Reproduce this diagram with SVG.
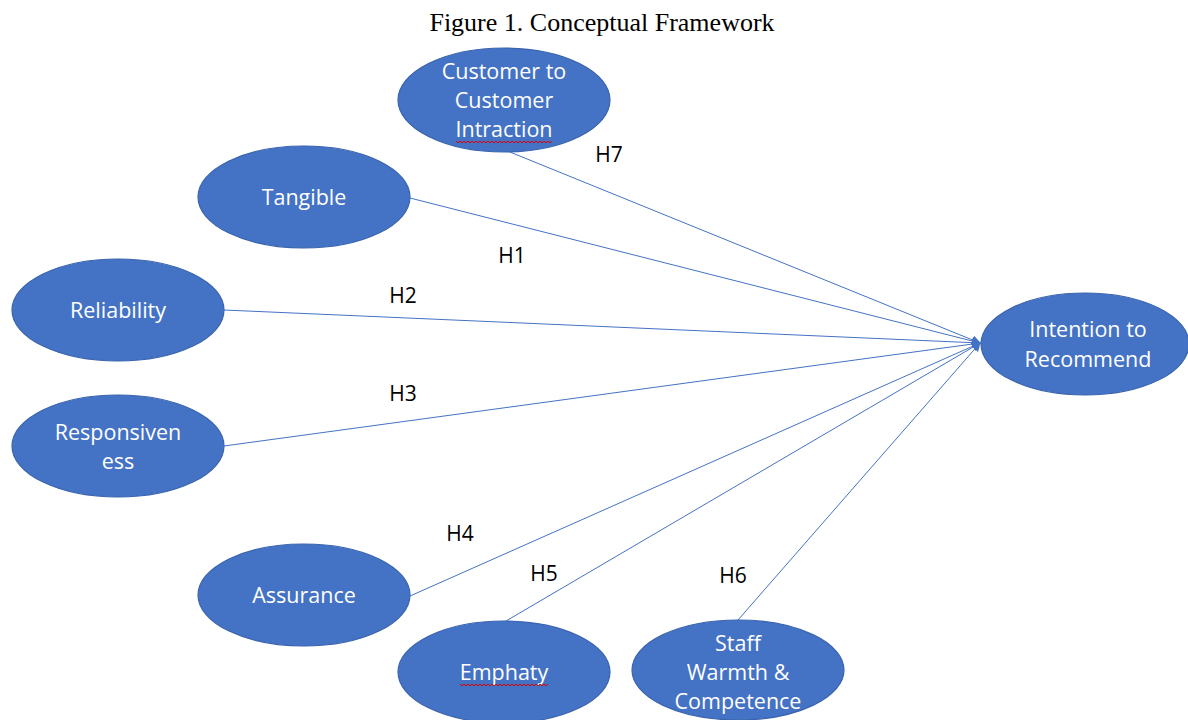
<svg xmlns="http://www.w3.org/2000/svg" width="1188" height="720" viewBox="0 0 1188 720">
<style>
.n{fill:#4472C4;stroke:#3A64AE;stroke-width:1.2}
.t{fill:#fff;font-family:"Open Sans","Liberation Sans",sans-serif;font-size:21.5px;text-anchor:middle}
.h{fill:#000;font-family:"Open Sans","Liberation Sans",sans-serif;font-size:21px;text-anchor:middle}
.c{stroke:#4472C4;stroke-width:1;fill:none;marker-end:url(#a)}
.sq{stroke:#D00;stroke-width:1;fill:none}
</style>
<defs>
<marker id="a" viewBox="0 0 10 10" refX="9" refY="5" markerWidth="9" markerHeight="9" markerUnits="userSpaceOnUse" orient="auto"><path d="M0,0 L10,5 L0,10 z" fill="#4472C4"/></marker>
</defs>
<rect width="1188" height="720" fill="#fff"/>
<text x="602" y="31" font-family="Liberation Serif,serif" font-size="26" text-anchor="middle">Figure 1. Conceptual Framework</text>
<g id="connectors">
<line class="c" x1="505" y1="150" x2="980" y2="343"/>
<line class="c" x1="410" y1="198" x2="980" y2="343"/>
<line class="c" x1="224" y1="310" x2="980" y2="343"/>
<line class="c" x1="224" y1="446" x2="980" y2="343"/>
<line class="c" x1="410" y1="596" x2="980" y2="343"/>
<line class="c" x1="506" y1="621" x2="980" y2="343"/>
<line class="c" x1="738" y1="620" x2="980" y2="343"/>
</g>
<g id="labels">
<text class="h" x="609" y="162">H7</text>
<text class="h" x="512" y="263">H1</text>
<text class="h" x="403" y="303">H2</text>
<text class="h" x="403" y="401">H3</text>
<text class="h" x="460" y="541">H4</text>
<text class="h" x="544" y="581">H5</text>
<text class="h" x="733" y="583">H6</text>
</g>
<g id="c2c">
<ellipse class="n" cx="504" cy="100" rx="106" ry="52"/>
<text class="t" x="504" y="79">Customer to</text>
<text class="t" x="504" y="108">Customer</text>
<text class="t" x="504" y="137">Intraction</text>
<path class="sq" d="M456,141 l2,2 l2,-2 l2,2 l2,-2 l2,2 l2,-2 l2,2 l2,-2 l2,2 l2,-2 l2,2 l2,-2 l2,2 l2,-2 l2,2 l2,-2 l2,2 l2,-2 l2,2 l2,-2 l2,2 l2,-2 l2,2 l2,-2 l2,2 l2,-2 l2,2 l2,-2 l2,2 l2,-2 l2,2 l2,-2 l2,2 l2,-2 l2,2 l2,-2 l2,2 l2,-2 l2,2 l2,-2 l2,2 l2,-2 l2,2 l2,-2 l2,2 l2,-2 l2,2 l2,-2"/>
</g>
<g id="tangible">
<ellipse class="n" cx="304" cy="197" rx="106" ry="51"/>
<text class="t" x="304" y="205">Tangible</text>
</g>
<g id="reliability">
<ellipse class="n" cx="118" cy="310" rx="106" ry="51"/>
<text class="t" x="118" y="318">Reliability</text>
</g>
<g id="responsiveness">
<ellipse class="n" cx="118" cy="446" rx="106" ry="51"/>
<text class="t" x="118" y="440">Responsiven</text>
<text class="t" x="118" y="469">ess</text>
</g>
<g id="assurance">
<ellipse class="n" cx="304" cy="595" rx="106" ry="51"/>
<text class="t" x="304" y="603">Assurance</text>
</g>
<g id="emphaty">
<ellipse class="n" cx="504" cy="672" rx="106" ry="51"/>
<text class="t" x="504" y="680">Emphaty</text>
<path class="sq" d="M460,684 l2,2 l2,-2 l2,2 l2,-2 l2,2 l2,-2 l2,2 l2,-2 l2,2 l2,-2 l2,2 l2,-2 l2,2 l2,-2 l2,2 l2,-2 l2,2 l2,-2 l2,2 l2,-2 l2,2 l2,-2 l2,2 l2,-2 l2,2 l2,-2 l2,2 l2,-2 l2,2 l2,-2 l2,2 l2,-2 l2,2 l2,-2 l2,2 l2,-2 l2,2 l2,-2 l2,2 l2,-2 l2,2 l2,-2 l2,2 l2,-2"/>
</g>
<g id="staff">
<ellipse class="n" cx="738" cy="670" rx="106" ry="50"/>
<text class="t" x="738" y="651">Staff</text>
<text class="t" x="738" y="680">Warmth &amp;</text>
<text class="t" x="738" y="709">Competence</text>
</g>
<g id="intention">
<ellipse class="n" cx="1085" cy="344" rx="104" ry="51"/>
<text class="t" x="1088" y="337">Intention to</text>
<text class="t" x="1088" y="367">Recommend</text>
</g>
</svg>
